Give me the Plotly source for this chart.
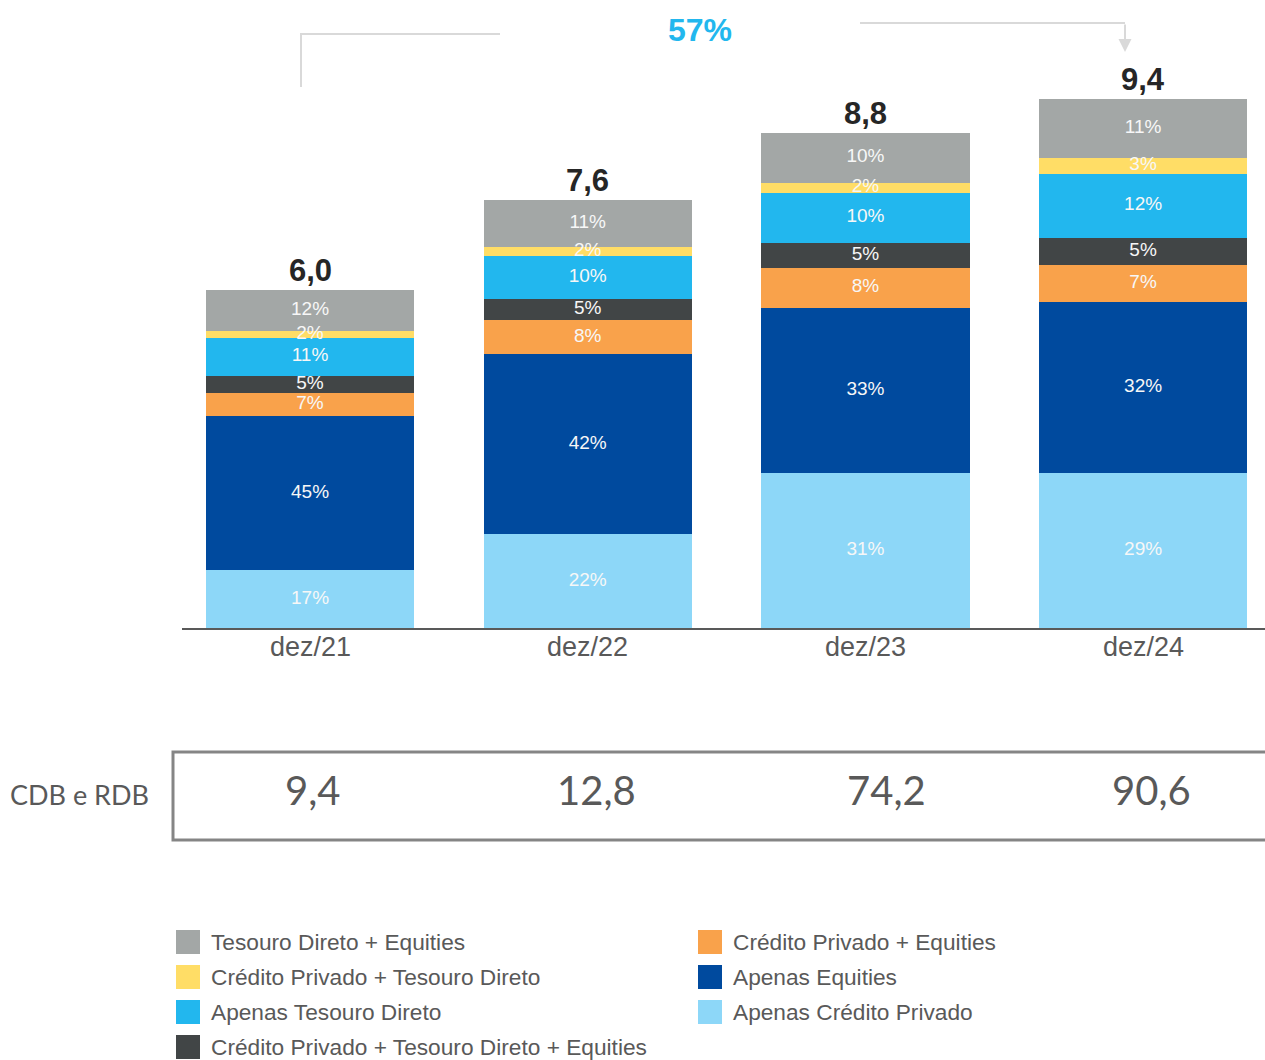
import plotly.graph_objects as go

# Categories and totals (R$ bi)
periods = ["dez/21", "dez/22", "dez/23", "dez/24"]
totals = [6.0, 7.6, 8.8, 9.4]
total_labels = ["6,0", "7,6", "8,8", "9,4"]

# Share of each group per period (%), bottom to top of the stack
series_names = [
    "Apenas Crédito Privado",
    "Apenas Equities",
    "Crédito Privado + Equities",
    "Crédito Privado + Tesouro Direto + Equities",
    "Apenas Tesouro Direto",
    "Crédito Privado + Tesouro Direto",
    "Tesouro Direto + Equities",
]
share_apenas_cp = [17, 22, 31, 29]
share_apenas_eq = [45, 42, 33, 32]
share_cp_eq = [7, 8, 8, 7]
share_cp_td_eq = [5, 5, 5, 5]
share_apenas_td = [11, 10, 10, 12]
share_cp_td = [2, 2, 2, 3]
share_td_eq = [12, 11, 10, 11]
shares = [share_apenas_cp, share_apenas_eq, share_cp_eq, share_cp_td_eq,
          share_apenas_td, share_cp_td, share_td_eq]

series_colors = ["#8DD7F8", "#004A9E", "#F9A24B", "#414546",
                 "#22B7EE", "#FFDD66", "#A3A7A6"]

# CDB e RDB values per period
cdb_labels = ["9,4", "12,8", "74,2", "90,6"]
growth_label = "57%"

# Legend layout: two columns
legend_left = ["Tesouro Direto + Equities", "Crédito Privado + Tesouro Direto",
               "Apenas Tesouro Direto", "Crédito Privado + Tesouro Direto + Equities"]
legend_right = ["Crédito Privado + Equities", "Apenas Equities", "Apenas Crédito Privado"]

W, H = 1265, 1060
ML, MR, MT, MB = 182, 0, 40, 432
PW, PH = W - ML - MR, H - MT - MB
ARIAL = "Liberation Sans, Arial, sans-serif"
GREY_TXT = "#595959"


def px(x):
    return (x - ML) / PW


def py(y):
    return (H - MB - y) / PH


# Segment heights: each bar's shares scaled so the stack reaches its total
col_sums = [sum(s[i] for s in shares) for i in range(len(periods))]
seg_values = [[t * v / cs for t, v, cs in zip(totals, vals, col_sums)] for vals in shares]

fig = go.Figure()
for name, vals, col in zip(series_names, seg_values, series_colors):
    fig.add_trace(go.Bar(
        x=periods, y=vals, name=name,
        marker=dict(color=col, line=dict(width=0)),
        showlegend=False, hoverinfo="skip",
    ))

# Percentage labels, drawn on top of all segments
lab_x, lab_y, lab_t = [], [], []
base = [0.0] * len(periods)
for vals, pct in zip(seg_values, shares):
    for i, p in enumerate(periods):
        lab_x.append(p)
        lab_y.append(base[i] + vals[i] / 2)
        lab_t.append(f"{pct[i]}%")
        base[i] += vals[i]
fig.add_trace(go.Scatter(
    x=lab_x, y=lab_y, text=lab_t, mode="text",
    textfont=dict(family=ARIAL, size=19, color="#F7F7F7"),
    showlegend=False, hoverinfo="skip", cliponaxis=False,
))

# Totals above each bar
for p, t, lab in zip(periods, totals, total_labels):
    fig.add_annotation(x=p, y=t, text=f"<b>{lab}</b>", showarrow=False,
                       yanchor="bottom", yshift=0,
                       font=dict(family=ARIAL, size=31, color="#262626"))

shapes = []
annotations = []

# Category labels under the axis
for p in periods:
    annotations.append(dict(xref="x", yref="paper", x=p, y=py(647), yanchor="middle",
                            xanchor="center", text=p, showarrow=False,
                            font=dict(family=ARIAL, size=27, color=GREY_TXT)))

# Growth bracket and arrow
line_col = "#D9D9D9"
shapes.append(dict(type="path", xref="paper", yref="paper",
                   path=f"M {px(301)},{py(87)} L {px(301)},{py(34)} L {px(500)},{py(34)}",
                   line=dict(color=line_col, width=2)))
shapes.append(dict(type="line", xref="paper", yref="paper",
                   x0=px(860), y0=py(23), x1=px(1125), y1=py(23),
                   line=dict(color=line_col, width=2)))
annotations.append(dict(xref="paper", yref="paper", x=px(1125), y=py(52),
                        ax=0, ay=-29, axref="pixel", ayref="pixel",
                        text="", showarrow=True, arrowhead=2, arrowsize=1.3,
                        arrowwidth=2, arrowcolor=line_col))
annotations.append(dict(xref="paper", yref="paper", x=px(700), y=py(30),
                        xanchor="center", yanchor="middle",
                        text=f"<b>{growth_label}</b>", showarrow=False,
                        font=dict(family=ARIAL, size=32, color="#22B7EE")))

# CDB e RDB row
shapes.append(dict(type="rect", xref="paper", yref="paper",
                   x0=px(173), y0=py(840), x1=px(1275), y1=py(752),
                   line=dict(color="#858585", width=3)))
annotations.append(dict(xref="paper", yref="paper", x=px(79), y=py(794),
                        xanchor="center", yanchor="middle",
                        text="CDB e RDB", showarrow=False,
                        font=dict(family="Lato, Open Sans, sans-serif", size=27, color=GREY_TXT)))
cdb_shift = [2, 9, 21, 8]
for p, lab, s in zip(periods, cdb_labels, cdb_shift):
    annotations.append(dict(xref="x", yref="paper", x=p, y=py(790), xshift=s,
                            xanchor="center", yanchor="middle",
                            text=lab, showarrow=False,
                            font=dict(family="Lato, Open Sans, sans-serif", size=40, color=GREY_TXT)))

# Legend
color_of = dict(zip(series_names, series_colors))
for col_x, items in ((176, legend_left), (698, legend_right)):
    for i, name in enumerate(items):
        yc = 942 + 35 * i
        shapes.append(dict(type="rect", xref="paper", yref="paper",
                           x0=px(col_x), x1=px(col_x + 24), y0=py(yc + 12), y1=py(yc - 12),
                           fillcolor=color_of[name], line=dict(width=0)))
        annotations.append(dict(xref="paper", yref="paper", x=px(col_x + 33), y=py(yc),
                                xanchor="left", yanchor="middle", text=name, showarrow=False,
                                font=dict(family=ARIAL, size=22.7, color=GREY_TXT)))

fig.update_layout(
    width=W, height=H,
    margin=dict(l=ML, r=MR, t=MT, b=MB),
    barmode="stack",
    bargap=0.25,
    plot_bgcolor="white",
    paper_bgcolor="white",
    shapes=shapes,
    annotations=list(fig.layout.annotations) + annotations,
    xaxis=dict(range=[-0.461, 3.439], showline=True, linecolor=GREY_TXT, linewidth=2,
               ticks="", showticklabels=False, showgrid=False, zeroline=False),
    yaxis=dict(range=[0, PH / 56.3], visible=False, showgrid=False, zeroline=False),
)

fig.write_html("out.html")
